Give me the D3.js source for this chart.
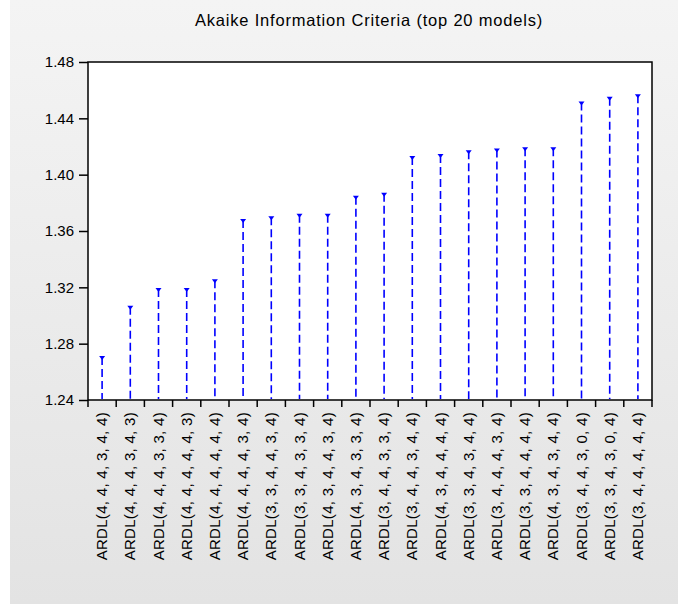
<!DOCTYPE html>
<html>
<head>
<meta charset="utf-8">
<script src="https://cdn.jsdelivr.net/npm/d3@7"></script>
<style>
  html, body { margin: 0; padding: 0; background: #ffffff; }
  svg { display: block; }
</style>
</head>
<body>
<svg id="chart" width="678" height="604"></svg>
<script>
const title = "Akaike Information Criteria (top 20 models)";
const models = [
  "ARDL(4, 4, 4, 3, 4, 4)",
  "ARDL(4, 4, 4, 3, 4, 3)",
  "ARDL(4, 4, 4, 3, 3, 4)",
  "ARDL(4, 4, 4, 4, 4, 3)",
  "ARDL(4, 4, 4, 4, 4, 4)",
  "ARDL(4, 4, 4, 4, 3, 4)",
  "ARDL(3, 3, 4, 4, 3, 4)",
  "ARDL(3, 3, 4, 3, 3, 4)",
  "ARDL(4, 3, 4, 4, 3, 4)",
  "ARDL(4, 3, 4, 3, 3, 4)",
  "ARDL(3, 4, 4, 3, 3, 4)",
  "ARDL(3, 4, 4, 3, 4, 4)",
  "ARDL(4, 3, 4, 4, 4, 4)",
  "ARDL(3, 3, 4, 3, 4, 4)",
  "ARDL(3, 4, 4, 4, 3, 4)",
  "ARDL(3, 3, 4, 4, 4, 4)",
  "ARDL(4, 3, 4, 3, 4, 4)",
  "ARDL(3, 4, 4, 3, 0, 4)",
  "ARDL(3, 3, 4, 3, 0, 4)",
  "ARDL(3, 4, 4, 4, 4, 4)"
];
const aic = [
  1.2712, 1.3070, 1.3195, 1.3195, 1.3257,
  1.3686, 1.3705, 1.3723, 1.3723, 1.3851,
  1.3872, 1.4133, 1.4147, 1.4173, 1.4185,
  1.4195, 1.4195, 1.4519, 1.4554, 1.4571
];
const yTicks = [1.24, 1.28, 1.32, 1.36, 1.40, 1.44, 1.48];

const svg = d3.select("#chart");
const W = 678, H = 604;
const plot = { left: 88, top: 62, right: 652, bottom: 400 };
const FONT = "Liberation Sans, Arial, sans-serif";

// background panel with soft gradient
const defs = svg.append("defs");
const grad = defs.append("linearGradient").attr("id", "bg").attr("x1", 0).attr("y1", 0).attr("x2", 0).attr("y2", 1);
grad.append("stop").attr("offset", "0%").attr("stop-color", "#f4f4f4");
grad.append("stop").attr("offset", "100%").attr("stop-color", "#e3e3e3");
svg.append("rect").attr("x", 10).attr("y", 0).attr("width", W - 10).attr("height", H).attr("fill", "url(#bg)");

const x = d3.scaleBand().domain(models).range([plot.left, plot.right]).padding(0);
const y = d3.scaleLinear().domain([1.24, 1.48]).range([plot.bottom, plot.top]);

// plot area
svg.append("rect")
  .attr("x", plot.left).attr("y", plot.top)
  .attr("width", plot.right - plot.left).attr("height", plot.bottom - plot.top)
  .attr("fill", "#ffffff");

// title
svg.append("text")
  .attr("x", 369)
  .attr("y", 26)
  .attr("text-anchor", "middle")
  .attr("font-family", FONT)
  .attr("font-size", 16.5)
  .attr("letter-spacing", 0.8)
  .attr("fill", "#000")
  .text(title);

// y axis
const yAxis = d3.axisLeft(y).tickValues(yTicks).tickFormat(d3.format(".2f")).tickSize(9).tickPadding(5);
const yg = svg.append("g").attr("transform", `translate(${plot.left},0)`).call(yAxis);
yg.select(".domain").remove();
yg.selectAll(".tick line").attr("stroke", "#000").attr("stroke-width", 1.5);
yg.selectAll(".tick text")
  .attr("font-family", FONT)
  .attr("font-size", 15).attr("fill", "#000");

// x axis: ticks at category boundaries
const boundaries = models.map(m => x(m)).concat([plot.right]);
svg.append("g").selectAll("line").data(boundaries).join("line")
  .attr("x1", d => d).attr("x2", d => d)
  .attr("y1", plot.bottom).attr("y2", plot.bottom + 7)
  .attr("stroke", "#000").attr("stroke-width", 1.5);

// x labels
svg.append("g").selectAll("text").data(models).join("text")
  .attr("transform", m => `translate(${x(m) + x.bandwidth() / 2 + 5},${plot.bottom + 12}) rotate(-90)`)
  .attr("text-anchor", "end")
  .attr("font-family", FONT)
  .attr("font-size", 15)
  .attr("letter-spacing", 0.3)
  .attr("fill", "#000")
  .text(m => m);

// stems
const data = models.map((m, i) => ({ m, v: aic[i] }));
svg.append("g").selectAll("line").data(data).join("line")
  .attr("x1", d => x(d.m) + x.bandwidth() / 2)
  .attr("x2", d => x(d.m) + x.bandwidth() / 2)
  .attr("y1", d => y(d.v) + 1)
  .attr("y2", plot.bottom - 1)
  .attr("stroke", "#0000ff").attr("stroke-width", 1.6)
  .attr("stroke-dasharray", "8,4");

// markers
svg.append("g").selectAll("path").data(data).join("path")
  .attr("d", d => {
    const cx = x(d.m) + x.bandwidth() / 2, cy = y(d.v);
    return `M${cx - 3},${cy} L${cx + 3},${cy} L${cx},${cy + 4} Z`;
  })
  .attr("fill", "#0000ff");

// frame
svg.append("rect")
  .attr("x", plot.left).attr("y", plot.top)
  .attr("width", plot.right - plot.left).attr("height", plot.bottom - plot.top)
  .attr("fill", "none").attr("stroke", "#000").attr("stroke-width", 1.5);
</script>
</body>
</html>
